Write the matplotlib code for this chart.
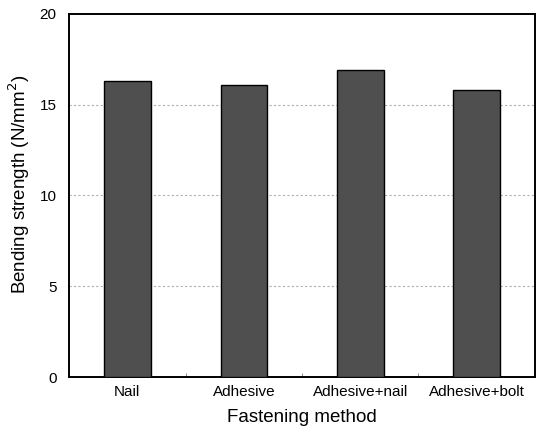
import matplotlib
import numpy as np
from matplotlib import pyplot as plt

matplotlib.use("Agg")

plt.rcParams["font.family"] = ["Liberation Sans", "DejaVu Sans"]

METHODS = ["Nail", "Adhesive", "Adhesive+nail", "Adhesive+bolt"]
STRENGTH = [16.3, 16.1, 16.9, 15.8]
Y_TICKS = [0, 5, 10, 15, 20]

BAR_COLOR = "#4f4f4f"


def plot_strength():
    fig = plt.figure(figsize=(5.36, 4.33), dpi=100)
    ax = fig.add_axes([0.129, 0.129, 0.869, 0.839])

    x = np.arange(len(METHODS))
    ax.bar(x, STRENGTH, width=0.40, color=BAR_COLOR, edgecolor="black",
           linewidth=1.0, zorder=3)

    # Light dotted gridlines at the inner y ticks
    for y in Y_TICKS[1:-1]:
        ax.axhline(y, color="#b0b0b0", linestyle=(0, (2, 2)), linewidth=0.8, zorder=1)

    ax.set_xlim(-0.5, len(METHODS) - 0.5)
    ax.set_ylim(0, 20)
    ax.set_yticks(Y_TICKS)
    ax.set_xticks(x)
    ax.set_xticklabels(METHODS, fontsize=11)
    ax.tick_params(axis="y", length=0, labelsize=11, pad=9)
    ax.tick_params(axis="x", length=0, pad=6)

    # Small separator ticks between categories
    ax.set_xticks(x[:-1] + 0.5, minor=True)
    ax.tick_params(axis="x", which="minor", direction="in", length=3, color="#777777")

    for side in ["left", "right", "top", "bottom"]:
        ax.spines[side].set_linewidth(1.4)

    ax.set_xlabel("Fastening method", fontsize=13.5, labelpad=7)
    ax.set_ylabel("Bending strength (N/mm$^2$)", fontsize=13.5, labelpad=8)
    ax.yaxis.set_label_coords(-0.08, 0.53)
    return fig


fig = plot_strength()
fig.savefig("out.png", dpi=100)
